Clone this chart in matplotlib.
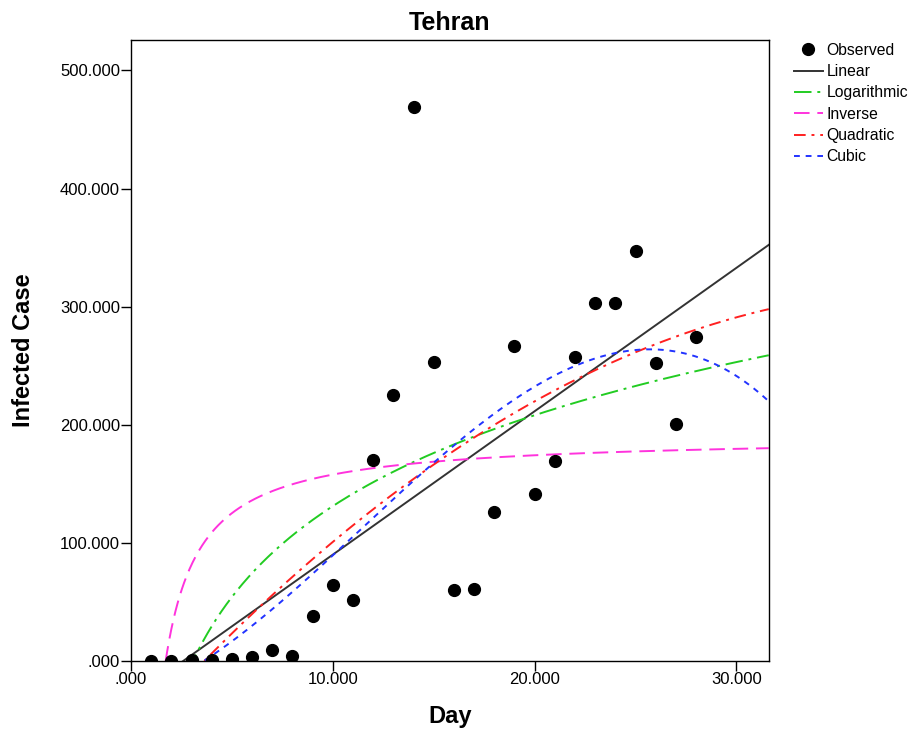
import numpy as np
import matplotlib
matplotlib.use('Agg')
import matplotlib.pyplot as plt
from matplotlib.ticker import FuncFormatter

plt.rcParams['font.family'] = ['Liberation Sans', 'DejaVu Sans']

# observed daily infected cases, Tehran
days = [1, 2, 3, 4, 5, 6, 7, 8, 9, 10, 11, 12, 13, 14,
        15, 16, 17, 18, 19, 20, 21, 22, 23, 24, 25, 26, 27, 28]
cases = [0, 0, 1, 1, 2, 3, 9, 4, 38, 64, 52, 170, 225, 469,
         253, 60, 61, 126, 267, 141, 169, 257, 303, 303, 347, 252, 201, 274]

x = np.array(days, dtype=float)
y = np.array(cases, dtype=float)

# curve estimation fits (least squares on the observed data)
lin = np.polyfit(x, y, 1)
quad = np.polyfit(x, y, 2)
cub = np.polyfit(x, y, 3)
logc = np.polyfit(np.log(x), y, 1)
invc = np.polyfit(1.0 / x, y, 1)

xmax = 31.6
xs = np.linspace(0.05, xmax, 600)

fig = plt.figure(figsize=(9.13, 7.30), dpi=100)
ax = fig.add_axes([0.1435, 0.0945, 0.6985, 0.851])

ax.plot(x, y, 'o', color='black', ms=8.5, label='Observed', zorder=5)
ax.plot(xs, np.polyval(lin, xs), color='#333333', lw=1.4, label='Linear')
ax.plot(xs, np.polyval(logc, np.log(xs)), color='#22cc22', lw=1.4,
        dashes=(9, 3, 1.5, 3), label='Logarithmic')
ax.plot(xs, np.polyval(invc, 1.0 / xs), color='#ff33dd', lw=1.4,
        dashes=(8, 4), label='Inverse')
ax.plot(xs, np.polyval(quad, xs), color='#ff2020', lw=1.4,
        dashes=(6, 3, 1.5, 3), label='Quadratic')
ax.plot(xs, np.polyval(cub, xs), color='#2233ff', lw=1.4,
        dashes=(3, 3), label='Cubic')

ax.set_xlim(0, xmax)
ax.set_ylim(0, 526)
ax.set_xticks([0, 10, 20, 30])
ax.set_yticks([0, 100, 200, 300, 400, 500])

def fmt(v, pos):
    # SPSS style: three decimals, no leading zero
    return '.000' if v == 0 else '%d.000' % v

ax.xaxis.set_major_formatter(FuncFormatter(fmt))
ax.yaxis.set_major_formatter(FuncFormatter(fmt))
ax.tick_params(labelsize=12, direction='out', length=7, width=1, pad=1)
for s in ax.spines.values():
    s.set_linewidth(1.0)

ax.set_title('Tehran', fontsize=18, fontweight='bold', pad=7)
ax.set_xlabel('Day', fontsize=17, fontweight='bold', labelpad=13)
ax.set_ylabel('Infected Case', fontsize=17, fontweight='bold', labelpad=18)

ax.legend(loc='upper left', bbox_to_anchor=(1.04, 0.995), frameon=False,
          fontsize=11.3, handlelength=1.8, handletextpad=0.25,
          labelspacing=0.4, borderaxespad=0, borderpad=0)

fig.savefig('out.png', dpi=100)
